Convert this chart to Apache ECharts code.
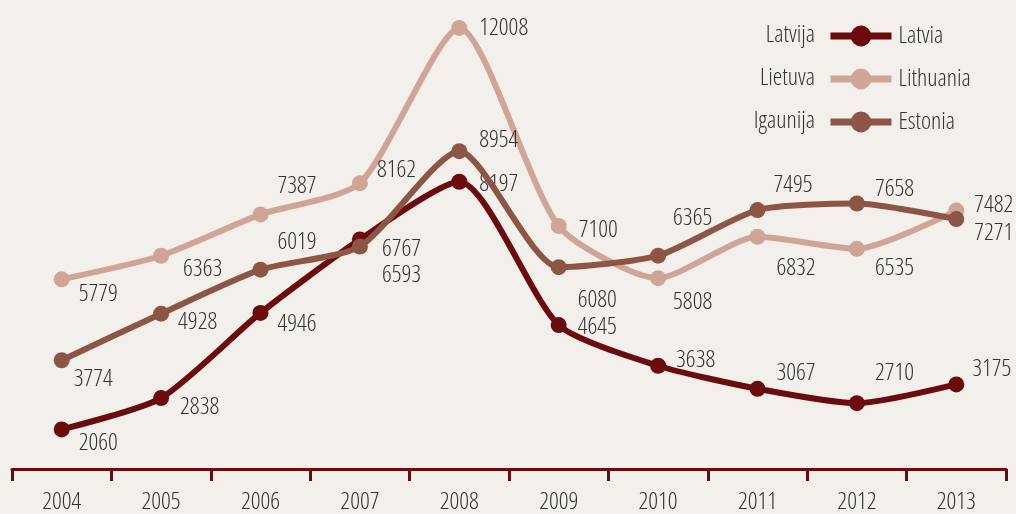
<!DOCTYPE html>
<html>
<head>
<meta charset="utf-8">
<script src="https://cdn.jsdelivr.net/npm/echarts@6/dist/echarts.min.js"></script>
<style>
html,body{margin:0;padding:0;background:#f3efeb;}
#chart{width:1016px;height:514px;}
</style>
</head>
<body>
<div id="chart"></div>
<script>
// ---- data ----
const years = ['2004','2005','2006','2007','2008','2009','2010','2011','2012','2013'];
const latvia    = [2060, 2838, 4946, 6767, 8197, 4645, 3638, 3067, 2710, 3175];
const lithuania = [5779, 6363, 7387, 8162, 12008, 7100, 5808, 6832, 6535, 7482];
const estonia   = [3774, 4928, 6019, 6593, 8954, 6080, 6365, 7495, 7658, 7271];
const namesEN = ['Latvia', 'Lithuania', 'Estonia'];
const namesLV = ['Latvija', 'Lietuva', 'Igaunija'];

// ---- label placement (left edge from marker centre, vertical shift) ----
const latviaLbl    = [[17,14],[19,9],[17,11],[22,10],[20,2],[19,2],[18,-6],[19,-16],[18,-30],[16,-15]];
const lithuaniaLbl = [[17,15],[22,13],[17,-28],[17,-13],[20,0],[20,4],[15,24],[19,31],[18,19],[18,-5]];
const estoniaLbl   = [[12,19],[17,8],[17,-27],[22,29],[20,-11],[19,33],[15,-38],[16,-25],[18,-14],[18,14]];

const colors = ['#6b0b0e', '#cfa597', '#8c5546'];
const FAMILY = '"Open Sans", "Roboto Condensed", sans-serif';
const STRETCH = 'condensed';
const WEIGHT = 300;
const FS = 24;
const TXT = '#333333';
const SYM = 16;

function mk(name, values, lbl, color, z) {
  return {
    name: name,
    type: 'line',
    z: z,
    smooth: 0.22,
    symbol: 'circle',
    symbolSize: SYM,
    itemStyle: { color: color },
    lineStyle: { color: color, width: 6 },
    data: values.map(function (v, i) {
      return {
        value: v,
        label: {
          show: true,
          position: 'right',
          distance: 10,
          offset: [lbl[i][0] - 18, lbl[i][1]],
          color: TXT,
          fontStyle: STRETCH,
          fontWeight: WEIGHT,
          fontFamily: FAMILY,
          fontSize: FS
        }
      };
    }),
    emphasis: { disabled: true },
    animation: false
  };
}

const chart = echarts.init(document.getElementById('chart'), null, { renderer: 'canvas' });
chart.setOption({
  backgroundColor: '#f3efeb',
  animation: false,
  grid: { left: 12, right: 10, top: 0, bottom: 42 },
  xAxis: {
    type: 'category',
    data: years,
    boundaryGap: true,
    axisLine: { show: true, lineStyle: { color: '#6b0b0e', width: 3 } },
    axisTick: { show: true, length: 12, lineStyle: { color: '#6b0b0e', width: 3 } },
    axisLabel: { color: TXT, fontStyle: STRETCH, fontWeight: WEIGHT, fontFamily: FAMILY, fontSize: FS, margin: 21 },
    splitLine: { show: false }
  },
  yAxis: {
    type: 'value',
    min: 1080,
    max: 12700,
    show: false,
    splitLine: { show: false }
  },
  legend: {
    orient: 'vertical',
    left: 827,
    top: 24,
    padding: 0,
    itemWidth: 61,
    itemHeight: 26,
    itemGap: 19,
    data: namesEN,
    lineStyle: { width: 7 },
    textStyle: { color: TXT, fontStyle: STRETCH, fontWeight: WEIGHT, fontFamily: FAMILY, fontSize: FS, lineHeight: 22, padding: [0,0,0,2] },
    selectedMode: false
  },
  graphic: namesLV.map(function (t, i) {
    return {
      type: 'text',
      x: 815,
      y: 35 + i * 43,
      style: {
        text: t, fill: TXT,
        font: STRETCH + ' ' + WEIGHT + ' ' + FS + 'px ' + FAMILY,
        align: 'right', verticalAlign: 'middle',
        textAlign: 'right', textVerticalAlign: 'middle'
      }
    };
  }),
  series: [
    mk(namesEN[0], latvia, latviaLbl, colors[0], 2),
    mk(namesEN[1], lithuania, lithuaniaLbl, colors[1], 3),
    mk(namesEN[2], estonia, estoniaLbl, colors[2], 4)
  ]
});
</script>
</body>
</html>
